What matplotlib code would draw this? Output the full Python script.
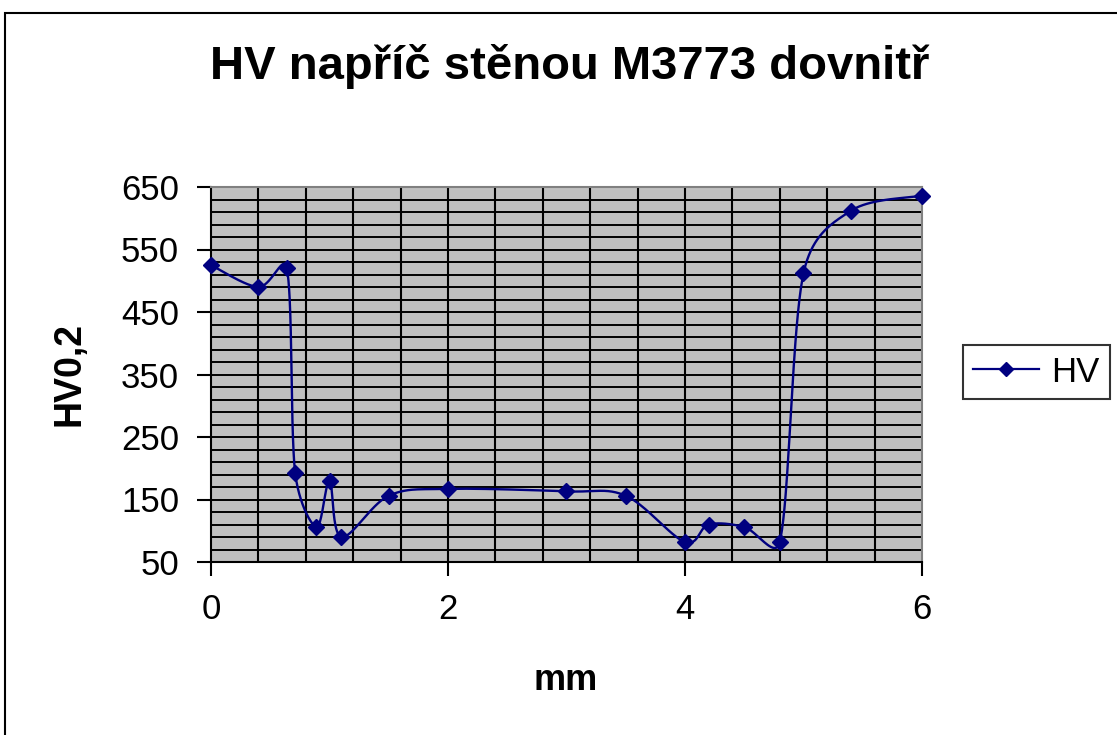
import numpy as np
import matplotlib
matplotlib.use('Agg')
import matplotlib.pyplot as plt
from matplotlib.lines import Line2D
from matplotlib.patches import Rectangle

plt.rcParams['font.family'] = ['Liberation Sans', 'DejaVu Sans']

# measured points (mm, HV0,2)
mm = [0.0, 0.4, 0.64, 0.71, 0.89, 1.0, 1.1, 1.5, 2.0, 3.0, 3.5, 4.0, 4.2, 4.5, 4.8, 5.0, 5.4, 6.0]
hv = [525, 490, 520, 193, 106, 179, 90, 156, 167, 163, 156, 82, 110, 106, 82, 512, 612, 636]

title = 'HV napříč stěnou M3773 dovnitř'
x_label = 'mm'
y_label = 'HV0,2'
series_name = 'HV'
navy = '#000080'


def smooth_curve(ax, xs, ys, n=40):
    # Excel-like smoothed line: Catmull-Rom bezier in screen space,
    # tangents limited to half the segment length (less overshoot)
    pts = ax.transData.transform(np.column_stack([xs, ys]))
    out = []
    for i in range(len(pts) - 1):
        p0 = pts[i - 1] if i > 0 else pts[i]
        p1 = pts[i]
        p2 = pts[i + 1]
        p3 = pts[i + 2] if i + 2 < len(pts) else pts[i + 1]
        seg_len = np.hypot(*(p2 - p1))
        t1 = (p2 - p0) / 6.0
        t2 = (p3 - p1) / 6.0
        for t in (t1, t2):
            ln = np.hypot(*t)
            if ln > 0.5 * seg_len:
                t *= 0.5 * seg_len / ln
        c1 = p1 + t1
        c2 = p2 - t2
        s = np.linspace(0, 1, n)[:, None]
        seg = ((1 - s) ** 3) * p1 + 3 * ((1 - s) ** 2) * s * c1 + 3 * (1 - s) * s ** 2 * c2 + s ** 3 * p2
        out.append(seg if i == 0 else seg[1:])
    curve = np.vstack(out)
    return ax.transData.inverted().transform(curve)


fig = plt.figure(figsize=(11.17, 7.35), dpi=100)
fig.patch.set_facecolor('white')
ax = fig.add_axes([211 / 1117, 1 - 562 / 735, 711 / 1117, 375 / 735])
ax.set_facecolor('#C0C0C0')
ax.set_xlim(0, 6)
ax.set_ylim(50, 650)

# gridlines
for gx in np.arange(0.4, 6.0, 0.4):
    ax.axvline(gx, color='black', lw=1.5, zorder=1)
for gy in np.arange(70, 650, 20):
    ax.axhline(gy, color='black', lw=1.4, zorder=1)

ax.set_xticks([0, 2, 4, 6])
ax.set_yticks(np.arange(50, 651, 100))
ax.tick_params(axis='both', labelsize=25, colors='black', width=1.5, direction='out', length=10)
ax.tick_params(axis='x', pad=12)
ax.tick_params(axis='y', pad=13)

for side in ['left', 'bottom']:
    ax.spines[side].set_color('black')
    ax.spines[side].set_linewidth(1.5)
for side in ['top', 'right']:
    ax.spines[side].set_color('#808080')
    ax.spines[side].set_linewidth(1.5)

fig.canvas.draw()
curve = smooth_curve(ax, mm, hv)
ax.plot(curve[:, 0], curve[:, 1], color=navy, lw=1.7, zorder=3, clip_on=False)
ax.plot(mm, hv, linestyle='none', marker='D', markersize=8, color=navy, zorder=4, clip_on=False)

fig.text(570 / 1117, 1 - 79 / 735, title, ha='center', va='baseline', fontsize=34, fontweight='bold')
fig.text(566 / 1117, 1 - 690 / 735, x_label, ha='center', va='baseline', fontsize=26, fontweight='bold')
fig.text(69 / 1117, 1 - 374 / 735, y_label, ha='center', va='center', fontsize=27, fontweight='bold', rotation=90)

handle = Line2D([], [], color=navy, lw=1.6, marker='D', markersize=7)
leg = fig.legend([handle], [series_name], loc='center left', bbox_to_anchor=(963 / 1117, 1 - 372 / 735),
                 fontsize=25, frameon=True, fancybox=False, edgecolor='black', handlelength=1.9,
                 borderpad=0.3, borderaxespad=0, handletextpad=0.35)
leg.get_frame().set_linewidth(1.5)

# outer chart border (right and bottom run off the image)
fig.patches.append(Rectangle((5 / 1117, -0.1), 1.2, 1.1 - 13 / 735, transform=fig.transFigure,
                             fill=False, edgecolor='black', lw=1.5))

fig.savefig('out.png', dpi=100)
